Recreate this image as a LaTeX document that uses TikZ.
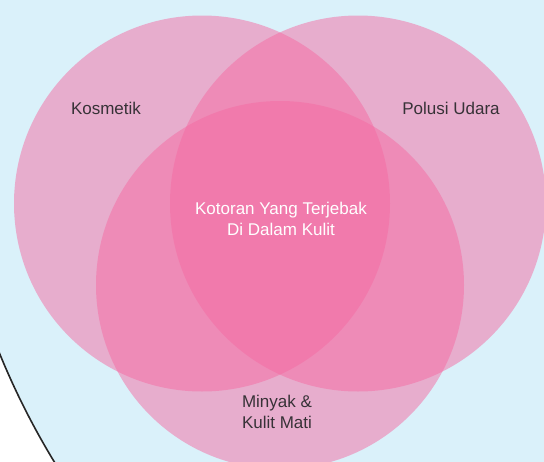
\documentclass[tikz,border=0pt]{standalone}
\usepackage{fontspec}
\setmainfont{Liberation Sans}
\definecolor{bgblue}{RGB}{218,241,250}
\definecolor{vpink}{RGB}{245,106,162}
\definecolor{lbl}{RGB}{55,50,55}
\begin{document}
\begin{tikzpicture}[x=1pt,y=-1pt,
  vset/.style={circle, inner sep=0pt, minimum size=#1, fill=vpink, fill opacity=0.5, draw=none},
  lab/.style={align=center, font=\fontsize{17}{20.5}\selectfont, text=lbl, inner sep=0pt},
  core/.style={lab, text=white}]
\useasboundingbox (0,0) rectangle (544,461);
\clip (0,0) rectangle (544,461);
\fill[white] (0,0) rectangle (544,461);
\coordinate (bigc) at (709,64);
\fill[bgblue] (bigc) circle[radius=766pt];
\draw[black!85, line width=1.6pt] (bigc) circle[radius=766pt];
\node[vset=376pt] (kos) at (202,203.5) {};
\node[vset=376pt] (pol) at (358,203.5) {};
\node[vset=368pt] (min) at (280,285) {};
\node[lab] (tkos) at (106,108) {Kosmetik};
\node[lab] (tpol) at (451,108) {Polusi Udara};
\node[core] (tcore) at (281,219) {Kotoran Yang Terjebak\\Di Dalam Kulit};
\node[lab] (tmin) at (277,412) {Minyak \&\\Kulit Mati};
\end{tikzpicture}
\end{document}
